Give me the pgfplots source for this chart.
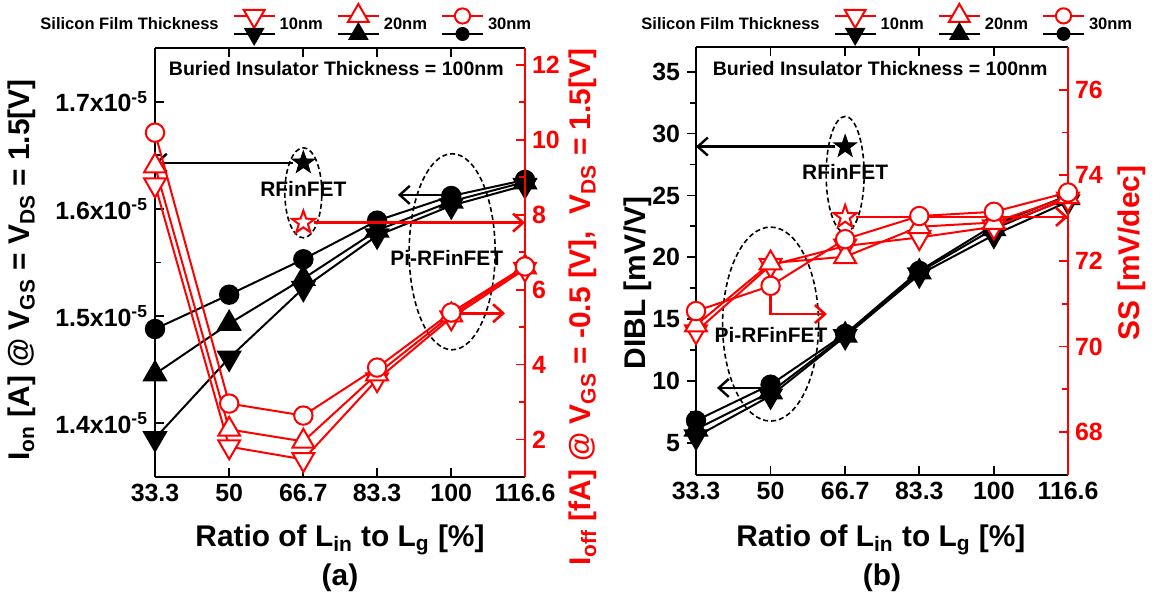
\documentclass[border=0pt]{standalone}
\usepackage{pgfplots}
\pgfplotsset{compat=1.18}
\usetikzlibrary{arrows.meta}
\usepackage{fontspec}
\setmainfont{Liberation Sans}
\definecolor{rd}{RGB}{255,0,0}
\newcommand\fs[1]{\fontsize{#1}{#1}\selectfont\bfseries}

\pgfdeclareplotmark{fstar}{%
  \pgfpathmoveto{\pgfpointpolar{90}{\pgfplotmarksize}}%
  \pgfpathlineto{\pgfpointpolar{126}{0.40\pgfplotmarksize}}%
  \pgfpathlineto{\pgfpointpolar{162}{\pgfplotmarksize}}%
  \pgfpathlineto{\pgfpointpolar{198}{0.40\pgfplotmarksize}}%
  \pgfpathlineto{\pgfpointpolar{234}{\pgfplotmarksize}}%
  \pgfpathlineto{\pgfpointpolar{270}{0.40\pgfplotmarksize}}%
  \pgfpathlineto{\pgfpointpolar{306}{\pgfplotmarksize}}%
  \pgfpathlineto{\pgfpointpolar{342}{0.40\pgfplotmarksize}}%
  \pgfpathlineto{\pgfpointpolar{18}{\pgfplotmarksize}}%
  \pgfpathlineto{\pgfpointpolar{54}{0.40\pgfplotmarksize}}%
  \pgfpathclose
  \pgfusepathqfillstroke}

\pgfplotsset{
  panel/.style={
    scale only axis,
    xmin=33.3, xmax=116.6,
    xtick={33.3,50,66.7,83.3,100,116.6},
    xticklabels={33.3,50,66.7,83.3,100,116.6},
    minor x tick num=1,
    major tick length=4.5bp, minor tick length=2.8bp,
    tick align=inside,
    every tick/.style={line width=0.9bp},
    axis line style={line width=1bp},
    tick label style={font=\fs{12.5}},
    label style={font=\fs{15}},
    clip=false,
  },
  blk10/.style={black, line width=1bp, mark=triangle*, mark size=6.3bp, mark options={rotate=180, fill=black, solid}},
  blk20/.style={black, line width=1bp, mark=triangle*, mark size=6.3bp, mark options={fill=black, solid}},
  blk30/.style={black, line width=1bp, mark=*, mark size=4.6bp, mark options={fill=black, solid}},
  red10/.style={rd, line width=1bp, mark=triangle*, mark size=6.3bp, mark options={rotate=180, fill=white, draw=rd, solid}},
  red20/.style={rd, line width=1bp, mark=triangle*, mark size=6.3bp, mark options={fill=white, draw=rd, solid}},
  red30/.style={rd, line width=1bp, mark=*, mark size=4.6bp, mark options={fill=white, draw=rd, solid}},
  leg/.style={legend style={draw=none, fill=none, at={#1}, anchor=west, legend columns=4, font=\fs{8.3}, inner sep=0pt, column sep=0pt, /tikz/every even column/.append style={column sep=5bp}}, legend cell align=left},
}
\tikzset{
  arr/.style={-{Straight Barb[length=5bp,width=9bp]}, line width=1.2bp},
  dsh/.style={black, line width=0.8bp, dash pattern=on 2.5bp off 1.5bp},
}
\newcommand\legimg[4]{%
\addlegendimage{legend image code/.code={
 \draw[rd, line width=1bp, mark=#1, mark size=#3, mark options={#2 fill=white, draw=rd, solid}, mark repeat=2, mark phase=2] plot coordinates {(0bp,4.5bp) (10.25bp,4.5bp) (20.5bp,4.5bp)};
 \draw[black, line width=1bp, mark=#1, mark size=#4, mark options={#2 fill=black}, mark repeat=2, mark phase=2] plot coordinates {(0bp,-4.5bp) (10.25bp,-4.5bp) (20.5bp,-4.5bp)};
}}}

\begin{document}
\begin{tikzpicture}
% ================= Panel (a) =================
\begin{axis}[panel, at={(77.5bp,61bp)}, anchor=south west, width=185bp, height=214.5bp,
  axis y line*=left, axis x line*=box,
  ymin=1.35, ymax=1.75, ytick={1.4,1.5,1.6,1.7}, minor y tick num=1,
  yticklabels={1.4x10\textsuperscript{-5},1.5x10\textsuperscript{-5},1.6x10\textsuperscript{-5},1.7x10\textsuperscript{-5}},
  xlabel={Ratio of L\textsubscript{in} to L\textsubscript{g} [\%]},
  xlabel style={at={(axis description cs:0.5,-0.147)}, anchor=center},
  ylabel={I\textsubscript{on} [A] @ V\textsubscript{GS} = V\textsubscript{DS} = 1.5[V]},
  ylabel style={at={(axis description cs:-0.359,0.4825)}, anchor=center},
  leg={(axis description cs:-0.3216,1.056)},
]
\addplot[blk10, forget plot] coordinates {(33.3,1.386) (50,1.461) (66.7,1.526) (83.3,1.575) (100,1.603) (116.6,1.622)};
\addplot[blk20, forget plot] coordinates {(33.3,1.446) (50,1.493) (66.7,1.535) (83.3,1.580) (100,1.607) (116.6,1.625)};
\addplot[blk30, forget plot] coordinates {(33.3,1.488) (50,1.520) (66.7,1.553) (83.3,1.589) (100,1.612) (116.6,1.627)};
\addplot[black, only marks, mark=fstar, mark size=6bp, mark options={fill=black}, forget plot] coordinates {(66.7,1.643)};
\addlegendimage{legend image code/.code={}}
\addlegendentry{Silicon Film Thickness}
\legimg{triangle*}{rotate=180,}{6bp}{5bp}
\addlegendentry{10nm}
\legimg{triangle*}{}{6bp}{5bp}
\addlegendentry{20nm}
\legimg{*}{}{3.8bp}{3bp}
\addlegendentry{30nm}
\draw[arr, black, shorten <=5bp] (axis cs:66.7,1.643) -- (axis cs:33.3,1.643);
\draw[dsh] (axis cs:66.7,1.615) ellipse [x radius=9.25bp, y radius=22.5bp];
\node[font=\fs{10.5}] at (axis cs:66.7,1.619) {RFinFET};
\draw[dsh] (axis cs:100.2,1.56) ellipse [x radius=21.5bp, y radius=49bp];
\node[font=\fs{10.5}] at (axis cs:99,1.554) {Pi-RFinFET};
\draw[arr, black] (axis cs:100,1.613) -- (axis cs:88,1.613);
\node[font=\fs{9.8}] at (axis description cs:0.49,0.953) {Buried Insulator Thickness = 100nm};
\node[font=\fs{15}] at (axis description cs:0.5,-0.235) {(a)};
\end{axis}
\begin{axis}[panel, at={(77.5bp,61bp)}, anchor=south west, width=185bp, height=214.5bp,
  axis y line*=right, axis x line=none,
  ymin=1, ymax=12.45, ytick={2,4,6,8,10,12}, yticklabels={2,4,6,8,10,12}, minor y tick num=1,
  y axis line style={rd, line width=1.2bp},
  every tick/.append style={rd},
  yticklabel style={text=rd},
  ylabel={I\textsubscript{off} [fA] @ V\textsubscript{GS} = -0.5 [V],\ \ V\textsubscript{DS} = 1.5[V]},
  ylabel style={text=rd, at={(axis description cs:1.157,0.396)}, anchor=center},
]
\addplot[red10] coordinates {(33.3,8.8) (50,1.81) (66.7,1.47) (83.3,3.6) (100,5.25) (116.6,6.55)};
\addplot[red20] coordinates {(33.3,9.3) (50,2.27) (66.7,1.95) (83.3,3.75) (100,5.32) (116.6,6.6)};
\addplot[red30] coordinates {(33.3,10.19) (50,2.96) (66.7,2.64) (83.3,3.92) (100,5.39) (116.6,6.62)};
\addplot[rd, only marks, mark=fstar, mark size=6bp, mark options={fill=white, draw=rd, line width=1bp}] coordinates {(66.7,7.79)};
\draw[arr, rd, line width=1.3bp, shorten <=5.5bp] (axis cs:66.7,7.79) -- (axis cs:116.6,7.79);
\draw[arr, rd, line width=1.3bp, shorten <=4.6bp] (axis cs:100,5.37) -- (axis cs:112.1,5.37);
\end{axis}

% ================= Panel (b) =================
\begin{axis}[panel, at={(348bp,62bp)}, anchor=south west, width=186bp, height=214bp,
  axis y line*=left, axis x line*=box, ytick align=outside,
  ymin=2.4, ymax=37, ytick={5,10,...,35}, yticklabels={5,10,15,20,25,30,35}, minor y tick num=1,
  xlabel={Ratio of L\textsubscript{in} to L\textsubscript{g} [\%]},
  xlabel style={at={(axis description cs:0.497,-0.152)}, anchor=center},
  ylabel={DIBL [mV/V]},
  ylabel style={at={(axis description cs:-0.156,0.449)}, anchor=center},
  leg={(axis description cs:-0.1586,1.054)},
]
\addplot[blk10, forget plot] coordinates {(33.3,5.5) (50,8.8) (66.7,13.6) (83.3,18.6) (100,21.8) (116.6,24.5)};
\addplot[blk20, forget plot] coordinates {(33.3,6.1) (50,9.1) (66.7,13.7) (83.3,18.8) (100,22.3) (116.6,24.8)};
\addplot[blk30, forget plot] coordinates {(33.3,6.8) (50,9.7) (66.7,13.8) (83.3,18.9) (100,22.6) (116.6,25.0)};
\addplot[black, only marks, mark=fstar, mark size=6bp, mark options={fill=black}, forget plot] coordinates {(66.7,28.95)};
\addlegendimage{legend image code/.code={}}
\addlegendentry{Silicon Film Thickness}
\legimg{triangle*}{rotate=180,}{6bp}{5bp}
\addlegendentry{10nm}
\legimg{triangle*}{}{6bp}{5bp}
\addlegendentry{20nm}
\legimg{*}{}{3.8bp}{3bp}
\addlegendentry{30nm}
\draw[arr, black, shorten <=5bp] (axis cs:66.7,28.95) -- (axis cs:33.3,28.95);
\draw[dsh] (axis cs:66.7,26.7) ellipse [x radius=9.5bp, y radius=29bp];
\node[font=\fs{10.5}] at (axis cs:66.7,26.9) {RFinFET};
\draw[dsh] (axis cs:50,14.6) ellipse [x radius=24bp, y radius=48.5bp];
\node[font=\fs{10.5}] at (axis cs:50.1,13.7) {Pi-RFinFET};
\draw[arr, black] (axis cs:50,9.44) -- (axis cs:38,9.44);
\node[font=\fs{9.8}] at (axis description cs:0.495,0.949) {Buried Insulator Thickness = 100nm};
\node[font=\fs{15}] at (axis description cs:0.5,-0.241) {(b)};
\end{axis}
\begin{axis}[panel, at={(348bp,62bp)}, anchor=south west, width=186bp, height=214bp,
  axis y line*=right, axis x line=none,
  ymin=67, ymax=77, ytick={68,70,72,74,76}, yticklabels={68,70,72,74,76}, minor y tick num=1,
  y axis line style={rd, line width=1.2bp},
  every tick/.append style={rd},
  yticklabel style={text=rd},
  ylabel={SS [mV/dec]},
  ylabel style={text=rd, at={(axis description cs:1.172,0.519)}, anchor=center},
]
\addplot[red10] coordinates {(33.3,70.35) (50,71.9) (66.7,72.35) (83.3,72.55) (100,72.8) (116.6,73.45)};
\addplot[red20] coordinates {(33.3,70.5) (50,71.95) (66.7,72.1) (83.3,72.8) (100,72.9) (116.6,73.5)};
\addplot[red30] coordinates {(33.3,70.83) (50,71.42) (66.7,72.51) (83.3,73.05) (100,73.15) (116.6,73.6)};
\addplot[rd, only marks, mark=fstar, mark size=6bp, mark options={fill=white, draw=rd, line width=1bp}] coordinates {(66.7,73.03)};
\draw[arr, rd, line width=1.3bp, shorten <=5.5bp] (axis cs:66.7,73.03) -- (axis cs:116.6,73.03);
\draw[arr, rd, line width=1.3bp, shorten <=4.6bp] (axis cs:50,71.42) -- (axis cs:50,70.76) -- (axis cs:62.6,70.76);
\end{axis}
\pgfresetboundingbox
\path (0,0) rectangle (583.5bp,299.5bp);
\end{tikzpicture}
\end{document}
